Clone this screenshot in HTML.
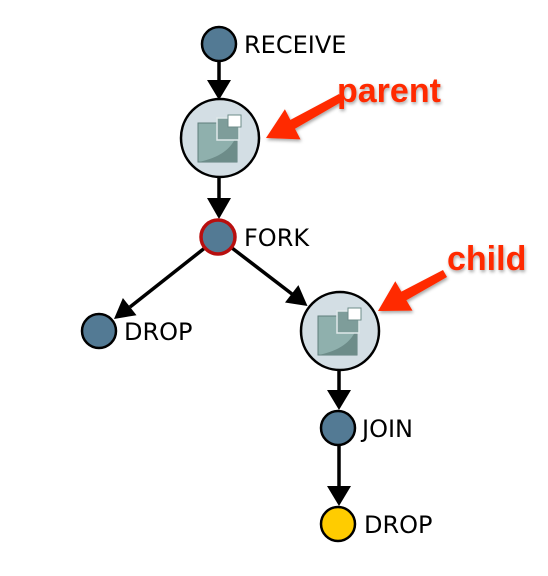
<!DOCTYPE html>
<html><head><meta charset="utf-8"><style>
html,body{margin:0;padding:0;background:#fff;}
svg{display:block}
text{font-family:"DejaVu Sans","Liberation Sans",sans-serif;}
</style></head><body>
<svg width="548" height="576" viewBox="0 0 548 576" xmlns="http://www.w3.org/2000/svg">
<defs>
<filter id="sh" x="-20%" y="-20%" width="140%" height="160%"><feDropShadow dx="1" dy="2" stdDeviation="1.5" flood-color="#000" flood-opacity="0.35"/></filter>
<g id="icon">
<rect x="-22" y="-15" width="39" height="39" fill="#8fb0ad" stroke="#5f7e7c" stroke-width="1"/>
<path d="M-22 24 L17 24 L17 -4 Q10 18 -22 24Z" fill="#6d8c89"/>
<rect x="-3" y="-20" width="22" height="22" fill="#7e9d9a" stroke="#dfe8ea" stroke-width="1.5"/>
<rect x="8" y="-23" width="13" height="12" fill="#fff" stroke="#6d8c89" stroke-width="1"/>
</g>
</defs>
<g stroke="#000" stroke-width="3.5" fill="none">
<line x1="219" y1="61" x2="219" y2="82"/>
<line x1="219" y1="177" x2="219" y2="200"/>
<line x1="206" y1="247" x2="130" y2="307"/>
<line x1="232" y1="248" x2="292" y2="294"/>
<line x1="339" y1="370" x2="339" y2="392"/>
<line x1="339" y1="445" x2="339" y2="487"/>
</g>
<g fill="#000">
<polygon points="207,80 231,80 219,100"/>
<polygon points="207,198 231,198 219,219"/>
<polygon points="114,319 136.5,315.2 122.9,298"/>
<polygon points="307.5,306 285,302.5 298.4,285.1"/>
<polygon points="327,390 351,390 339,410"/>
<polygon points="327,486 351,486 339,506"/>
</g>
<circle cx="219" cy="44" r="17" fill="#537a94" stroke="#000" stroke-width="2.5"/>
<text x="244" y="53" font-size="24">RECEIVE</text>
<circle cx="220" cy="138" r="39" fill="#d3dee4" stroke="#000" stroke-width="2.5"/>
<use href="#icon" x="220" y="138"/>
<circle cx="218" cy="237" r="17" fill="#537a94" stroke="#b80f0f" stroke-width="3.5"/>
<text x="244" y="246" font-size="24">FORK</text>
<circle cx="99" cy="331" r="17" fill="#537a94" stroke="#000" stroke-width="2.5"/>
<text x="124" y="340" font-size="24">DROP</text>
<circle cx="340" cy="331" r="39" fill="#d3dee4" stroke="#000" stroke-width="2.5"/>
<use href="#icon" x="340" y="331"/>
<circle cx="338" cy="428" r="17" fill="#537a94" stroke="#000" stroke-width="2.5"/>
<text x="362" y="437" font-size="24">JOIN</text>
<circle cx="338" cy="524" r="17" fill="#ffcc00" stroke="#000" stroke-width="2.5"/>
<text x="364" y="533" font-size="24">DROP</text>
<g fill="#ff2a00" filter="url(#sh)">
<polygon points="266,138 300.5,139.4 295,128.8 343,101 339,94 290.4,119.9 284.9,109.2"/>
<polygon points="378,311 412.5,310.6 406.4,300.2 447,277 443,270 401.4,291.6 395.3,281.2"/>
<text x="337" y="102" font-size="34" font-weight="bold" style="font-family:'Liberation Sans',sans-serif">parent</text>
<text x="447" y="270" font-size="34" font-weight="bold" style="font-family:'Liberation Sans',sans-serif">child</text>
</g>
</svg>
</body></html>
